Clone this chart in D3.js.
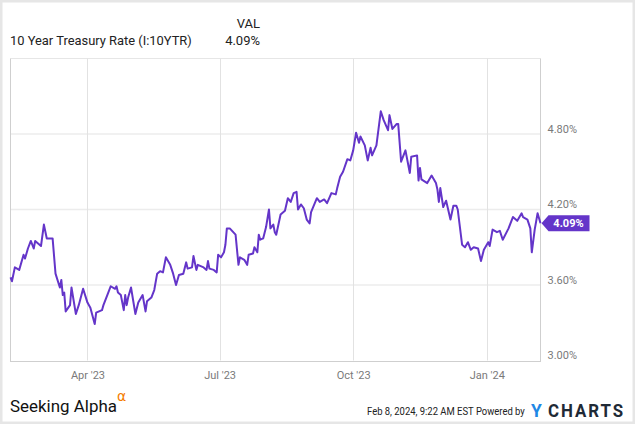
<!DOCTYPE html>
<html>
<head>
<meta charset="utf-8">
<script src="https://cdn.jsdelivr.net/npm/d3@7"></script>
<style>
  html, body { margin: 0; padding: 0; background: #fff; }
  svg { display: block; font-family: Roboto, "Noto Sans", sans-serif; }
</style>
</head>
<body>
<svg id="chart" width="635" height="424"></svg>
<script>
const seriesName = "10 Year Treasury Rate (I:10YTR)";
const lastValueLabel = "4.09%";
const dates = [
  "2023-02-07","2023-02-08","2023-02-10","2023-02-13","2023-02-16","2023-02-17","2023-02-19","2023-02-21","2023-02-23","2023-02-24",
  "2023-02-28","2023-03-02","2023-03-04","2023-03-06","2023-03-08","2023-03-10","2023-03-13","2023-03-14","2023-03-15","2023-03-16",
  "2023-03-17","2023-03-20","2023-03-21","2023-03-24","2023-03-26","2023-03-29","2023-04-01","2023-04-03","2023-04-06","2023-04-07",
  "2023-04-11","2023-04-12","2023-04-15","2023-04-17","2023-04-20","2023-04-21","2023-04-22","2023-04-24","2023-04-26","2023-04-27",
  "2023-04-28","2023-04-29","2023-05-01","2023-05-04","2023-05-06","2023-05-09","2023-05-11","2023-05-12","2023-05-15","2023-05-17",
  "2023-05-19","2023-05-21","2023-05-23","2023-05-25","2023-05-28","2023-05-30","2023-06-01","2023-06-03","2023-06-06","2023-06-08",
  "2023-06-09","2023-06-12","2023-06-13","2023-06-15","2023-06-16","2023-06-20","2023-06-22","2023-06-23","2023-06-24","2023-06-27",
  "2023-06-29","2023-06-30","2023-07-02","2023-07-04","2023-07-05","2023-07-06","2023-07-08","2023-07-12","2023-07-14","2023-07-15",
  "2023-07-18","2023-07-20","2023-07-21","2023-07-24","2023-07-25","2023-07-27","2023-07-28","2023-07-29","2023-07-31","2023-08-02",
  "2023-08-04","2023-08-05","2023-08-07","2023-08-08","2023-08-09","2023-08-12","2023-08-15","2023-08-17","2023-08-19","2023-08-21",
  "2023-08-23","2023-08-24","2023-08-26","2023-08-28","2023-08-30","2023-09-01","2023-09-02","2023-09-06","2023-09-08","2023-09-11",
  "2023-09-13","2023-09-16","2023-09-19","2023-09-20","2023-09-22","2023-09-24","2023-09-27","2023-09-29","2023-10-01","2023-10-03",
  "2023-10-05","2023-10-06","2023-10-09","2023-10-11","2023-10-13","2023-10-14","2023-10-17","2023-10-20","2023-10-22","2023-10-25",
  "2023-10-26","2023-10-28","2023-10-31","2023-11-01","2023-11-03","2023-11-06","2023-11-09","2023-11-10","2023-11-14","2023-11-15",
  "2023-11-16","2023-11-17","2023-11-21","2023-11-24","2023-11-27","2023-11-28","2023-11-29","2023-11-30","2023-12-02","2023-12-04",
  "2023-12-07","2023-12-09","2023-12-11","2023-12-12","2023-12-15","2023-12-17","2023-12-19","2023-12-21","2023-12-23","2023-12-26",
  "2023-12-28","2023-12-30","2024-01-02","2024-01-03","2024-01-05","2024-01-08","2024-01-10","2024-01-12","2024-01-16","2024-01-19",
  "2024-01-22","2024-01-25","2024-01-26","2024-01-29","2024-01-31","2024-02-01","2024-02-03","2024-02-05","2024-02-07"
];
const values = [
  3.66,3.63,3.74,3.72,3.84,3.81,3.89,3.95,3.89,3.95,
  3.91,4.08,3.97,3.97,3.97,3.69,3.58,3.64,3.52,3.54,
  3.39,3.44,3.58,3.37,3.44,3.57,3.46,3.42,3.29,3.38,
  3.40,3.44,3.53,3.59,3.57,3.59,3.54,3.52,3.40,3.52,
  3.44,3.50,3.58,3.37,3.46,3.52,3.39,3.47,3.50,3.56,
  3.69,3.71,3.70,3.82,3.76,3.69,3.60,3.68,3.69,3.78,
  3.73,3.74,3.83,3.72,3.76,3.74,3.72,3.79,3.73,3.72,
  3.70,3.84,3.82,3.86,3.92,4.05,4.05,4.00,3.76,3.82,
  3.80,3.76,3.84,3.85,3.90,3.86,4.00,3.96,3.97,4.06,
  4.20,4.05,4.08,4.02,4.00,4.16,4.19,4.29,4.26,4.33,
  4.34,4.20,4.24,4.21,4.12,4.09,4.18,4.29,4.26,4.28,
  4.25,4.33,4.32,4.37,4.46,4.50,4.60,4.59,4.67,4.81,
  4.73,4.78,4.71,4.59,4.69,4.63,4.71,4.98,4.91,4.83,
  4.95,4.84,4.88,4.88,4.58,4.67,4.49,4.62,4.63,4.43,
  4.53,4.44,4.41,4.47,4.41,4.36,4.26,4.37,4.22,4.27,
  4.12,4.23,4.23,4.20,3.92,3.90,3.94,3.88,3.90,3.89,
  3.79,3.88,3.94,3.91,4.04,4.02,4.03,3.96,4.05,4.14,
  4.11,4.17,4.14,4.12,4.05,3.86,4.04,4.17,4.09
];
const yTicks = [3.00, 3.60, 4.20, 4.80];
const xTickDates = ["2023-04-01","2023-07-01","2023-10-01","2024-01-01"];
const footerStamp = "Feb 8, 2024, 9:22 AM EST Powered by";

const parse = d3.timeParse("%Y-%m-%d");
const data = dates.map((d, i) => ({ date: parse(d), value: values[i] }));

const svg = d3.select("#chart");
const W = 635, H = 424;
const L = 10.5, R = 540.5, T = 58.5, B = 360.5;

const x = d3.scaleTime().domain([parse("2023-02-07"), parse("2024-02-07")]).range([L, R]);
const y = d3.scaleLinear().domain([3.0, 5.4]).range([B, T]);

// helper: text squeezed horizontally to a target width via transform
function fitText(x0, y0, width, anchor, attrs, str) {
  const g = svg.append("g");
  const t = g.append("text").attr("x", 0).attr("y", 0).text(str);
  Object.entries(attrs).forEach(([k, v]) => t.attr(k, v));
  const w = t.node().getComputedTextLength();
  const s = width / w;
  const tx = anchor === "end" ? x0 - width : x0;
  g.attr("transform", `translate(${tx},${y0}) scale(${s},1)`);
  return t;
}

// outer frame
svg.append("rect").attr("x", 1.25).attr("y", 1.25).attr("width", W - 2.5).attr("height", H - 2.5)
  .attr("fill", "#fff").attr("stroke", "#e6e6e6").attr("stroke-width", 2.5);

// horizontal gridlines
svg.append("g").selectAll("line").data(yTicks.filter(v => v > 3)).join("line")
  .attr("x1", L).attr("x2", R).attr("y1", d => y(d)).attr("y2", d => y(d))
  .attr("stroke", "#ececec").attr("stroke-width", 1.5);
// top line
svg.append("line").attr("x1", L).attr("x2", R).attr("y1", T).attr("y2", T)
  .attr("stroke", "#e6e6e6").attr("stroke-width", 1);

// vertical gridlines
const xt = xTickDates.map(parse);
svg.append("g").selectAll("line").data(xt).join("line")
  .attr("x1", d => Math.round(x(d)) + 0.5).attr("x2", d => Math.round(x(d)) + 0.5)
  .attr("y1", T).attr("y2", B)
  .attr("stroke", "#e2e2e2").attr("stroke-width", 1);

// borders
svg.append("line").attr("x1", L).attr("x2", L).attr("y1", T).attr("y2", B + 1.5).attr("stroke", "#cfcfcf").attr("stroke-width", 1);
svg.append("line").attr("x1", R).attr("x2", R).attr("y1", T).attr("y2", B + 1.5).attr("stroke", "#cfcfcf").attr("stroke-width", 1);
svg.append("line").attr("x1", L).attr("x2", R).attr("y1", B + 1).attr("y2", B + 1).attr("stroke", "#cfcfcf").attr("stroke-width", 1.2);

// y axis labels via d3 axis
const yAxis = d3.axisRight(y).tickValues(yTicks).tickFormat(d => d3.format(".2f")(d) + "%").tickSize(0).tickPadding(0);
const gy = svg.append("g").attr("transform", `translate(${R + 7},0)`).call(yAxis);
gy.select(".domain").remove();
gy.selectAll("text").attr("fill", "#7a7a7a").attr("font-size", 11).attr("font-family", "Roboto")
  .attr("dy", "-0.15em");

// x axis labels
const xAxis = d3.axisBottom(x).tickValues(xt).tickFormat(d3.timeFormat("%b '%y")).tickSize(0).tickPadding(0);
const gx = svg.append("g").attr("transform", `translate(0,${B + 11})`).call(xAxis);
gx.select(".domain").remove();
gx.selectAll("text").attr("fill", "#7a7a7a").attr("font-size", 11).attr("font-family", "Roboto");

// line
const line = d3.line().x(d => x(d.date)).y(d => y(d.value)).curve(d3.curveLinear);
svg.append("path").datum(data).attr("d", line)
  .attr("fill", "none").attr("stroke", "#6435c9").attr("stroke-width", 2).attr("stroke-linejoin", "round");

// last value badge
const last = data[data.length - 1];
const by = y(last.value), bx = R + 1;
svg.append("path")
  .attr("d", `M${bx},${by} L${bx + 7},${by - 8} L${bx + 48},${by - 8} L${bx + 48},${by + 8} L${bx + 7},${by + 8} Z`)
  .attr("fill", "#6435c9");
svg.append("text").attr("x", bx + 27).attr("y", by + 4).attr("text-anchor", "middle")
  .attr("fill", "#fff").attr("font-size", 11).attr("font-weight", "bold").attr("font-family", "Roboto")
  .text(d3.format(".2f")(last.value) + "%");

// header
fitText(10, 44.5, 182, "start", { "font-size": 13, "fill": "#222" }, seriesName);
svg.append("text").attr("x", 260).attr("y", 27.5).attr("text-anchor", "end").attr("font-size", 13).attr("fill", "#222").text("VAL");
svg.append("text").attr("x", 260).attr("y", 44.5).attr("text-anchor", "end").attr("font-size", 13).attr("fill", "#222").text(lastValueLabel);

// footer: Seeking Alpha
fitText(10, 412, 107, "start", { "font-size": 17, "fill": "#111" }, "Seeking Alpha");
svg.append("text").attr("x", 117).attr("y", 401).attr("font-size", 14).attr("fill", "#f57c00")
  .attr("font-family", "DejaVu Sans").text("α");

fitText(525, 415, 158, "end", { "font-size": 11, "fill": "#222" }, footerStamp);
svg.append("text").attr("x", 531).attr("y", 416.5).attr("font-size", 17.5).attr("font-weight", "bold")
  .attr("fill", "#1e88e5").text("Y");
fitText(548, 416.5, 77, "start", { "font-size": 17.5, "font-weight": "bold", "fill": "#1f2a36", "letter-spacing": 2 }, "CHARTS");
</script>
</body>
</html>
